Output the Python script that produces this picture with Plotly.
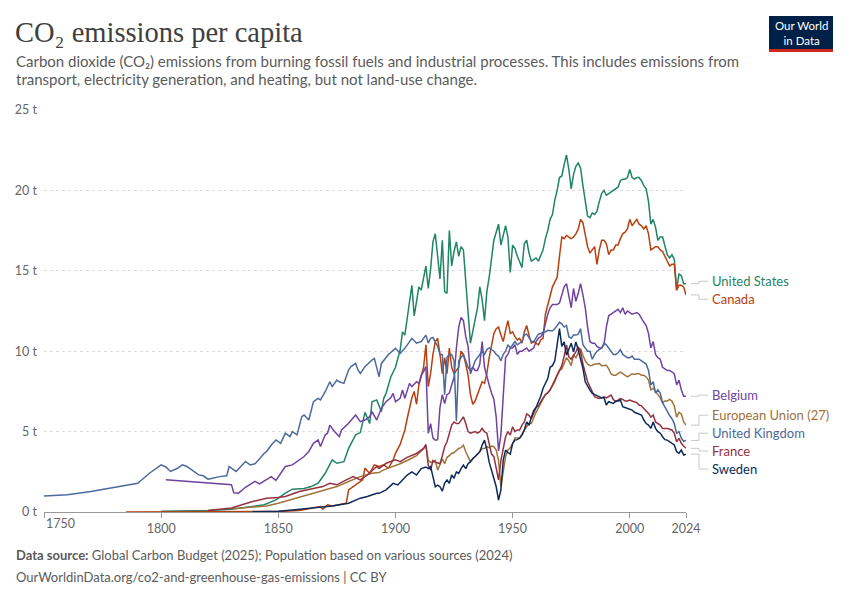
import plotly.graph_objects as go

# CO2 per capita (tonnes): (year, value)
united_states = [
    (1800, 0.05), (1810, 0.06), (1820, 0.1), (1830, 0.17), (1839, 0.34), (1844, 0.45),
    (1849, 0.75), (1853, 1.17), (1856, 1.42), (1861, 1.46), (1864, 1.58), (1867, 1.79),
    (1870, 2.41), (1873, 3.24), (1875, 3.03), (1878, 3.13), (1880, 3.96), (1883, 4.8),
    (1885, 4.94), (1887, 6.2), (1889, 5.5), (1890, 6.86), (1892, 6.97), (1894, 6.24),
    (1895, 7.07), (1896, 7.38), (1898, 8.4), (1900, 9.0), (1902, 10.07), (1903, 11.2),
    (1904, 11.0), (1905, 12.1), (1907, 14.1), (1908, 12.2), (1910, 14.0), (1911, 13.8),
    (1913, 15.3), (1914, 13.9), (1915, 15.1), (1916, 16.8), (1917, 17.3), (1919, 14.5),
    (1920, 16.9), (1921, 13.7), (1922, 13.6), (1923, 17.5), (1924, 15.3), (1925, 16.2),
    (1926, 16.8), (1927, 15.9), (1928, 16.5), (1929, 16.3), (1930, 14.6), (1931, 12.4),
    (1932, 10.5), (1933, 11.2), (1934, 11.8), (1935, 12.7), (1936, 14.0), (1937, 13.2),
    (1938, 11.9), (1939, 13.7), (1940, 14.6), (1941, 15.8), (1942, 16.9), (1943, 17.4),
    (1944, 17.9), (1945, 16.6), (1946, 17.3), (1947, 17.8), (1948, 17.1), (1949, 14.9),
    (1950, 16.6), (1951, 16.4), (1952, 15.9), (1953, 15.6), (1954, 15.2), (1955, 16.7),
    (1956, 16.9), (1957, 16.1), (1958, 15.6), (1959, 15.7), (1960, 15.8), (1961, 15.6),
    (1962, 16.0), (1963, 16.3), (1964, 17.0), (1965, 17.5), (1966, 18.2), (1967, 18.5),
    (1968, 19.4), (1969, 20.0), (1970, 20.8), (1971, 20.9), (1972, 21.6), (1973, 22.2),
    (1974, 21.3), (1975, 20.1), (1976, 21.0), (1977, 21.5), (1978, 21.7), (1979, 21.4),
    (1980, 20.3), (1981, 19.4), (1982, 18.4), (1983, 18.3), (1984, 18.6), (1985, 18.5),
    (1986, 18.7), (1987, 19.3), (1988, 19.8), (1989, 20.0), (1990, 19.7), (1991, 19.8),
    (1992, 19.9), (1993, 20.0), (1994, 20.1), (1995, 20.2), (1996, 20.6), (1997, 20.7),
    (1998, 20.7), (1999, 20.8), (2000, 21.3), (2001, 20.8), (2002, 20.7), (2003, 20.8),
    (2004, 20.8), (2005, 20.6), (2006, 20.3), (2007, 20.1), (2008, 19.3), (2009, 17.9),
    (2010, 18.2), (2011, 17.7), (2012, 16.9), (2013, 17.1), (2014, 17.1), (2015, 16.5),
    (2016, 16.0), (2017, 15.8), (2018, 16.0), (2019, 15.7), (2020, 13.8), (2021, 14.8),
    (2022, 14.7), (2023, 14.2), (2024, 14.2),
]

canada = [
    (1785, 0.0), (1800, 0.01), (1820, 0.01), (1840, 0.02), (1850, 0.03), (1859, 0.1),
    (1865, 0.25), (1868, 0.34), (1869, 0.17), (1871, 0.45), (1873, 0.38), (1876, 0.45),
    (1879, 0.55), (1880, 1.38), (1882, 1.6), (1884, 1.8), (1886, 2.0), (1887, 2.72),
    (1889, 2.41), (1891, 2.93), (1893, 2.83), (1895, 2.93), (1897, 2.72), (1899, 3.24),
    (1900, 3.65), (1902, 4.2), (1904, 5.1), (1905, 5.8), (1907, 7.1), (1908, 7.5),
    (1909, 6.7), (1910, 7.9), (1911, 8.4), (1912, 9.0), (1913, 10.4), (1914, 7.8),
    (1915, 8.6), (1916, 9.8), (1917, 10.6), (1918, 10.8), (1919, 9.8), (1920, 8.6),
    (1921, 9.6), (1922, 8.6), (1923, 10.2), (1924, 9.0), (1925, 8.6), (1926, 8.8),
    (1927, 9.0), (1928, 10.0), (1929, 9.8), (1930, 9.2), (1931, 8.5), (1932, 7.3),
    (1933, 6.7), (1934, 6.9), (1935, 7.3), (1936, 7.7), (1937, 8.1), (1938, 8.0),
    (1939, 8.6), (1940, 9.6), (1941, 10.3), (1942, 11.1), (1943, 11.4), (1944, 11.5),
    (1945, 11.0), (1946, 10.6), (1947, 11.3), (1948, 11.9), (1949, 11.1), (1950, 11.2),
    (1951, 10.9), (1952, 10.7), (1953, 10.8), (1954, 10.5), (1955, 11.2), (1956, 11.6),
    (1957, 11.0), (1958, 10.5), (1959, 10.6), (1960, 10.5), (1961, 10.4), (1962, 10.7),
    (1963, 10.8), (1964, 12.3), (1965, 12.9), (1966, 13.4), (1967, 14.0), (1968, 14.3),
    (1969, 14.6), (1970, 15.9), (1971, 17.1), (1972, 17.0), (1973, 17.2), (1974, 17.1),
    (1975, 17.0), (1976, 17.1), (1977, 17.3), (1978, 17.6), (1979, 18.2), (1980, 18.0),
    (1981, 17.3), (1982, 16.5), (1983, 16.1), (1984, 16.3), (1985, 16.5), (1986, 15.4),
    (1987, 16.3), (1988, 16.9), (1989, 16.9), (1990, 16.7), (1991, 16.0), (1992, 16.3),
    (1993, 16.3), (1994, 16.6), (1995, 16.6), (1996, 17.0), (1997, 17.3), (1998, 17.4),
    (1999, 17.6), (2000, 18.2), (2001, 17.8), (2002, 18.0), (2003, 18.2), (2004, 17.9),
    (2005, 17.8), (2006, 17.6), (2007, 17.8), (2008, 17.3), (2009, 16.3), (2010, 16.4),
    (2011, 16.5), (2012, 16.5), (2013, 16.3), (2014, 16.2), (2015, 15.9), (2016, 15.5),
    (2017, 15.3), (2018, 15.4), (2019, 15.4), (2020, 13.8), (2021, 14.1), (2022, 14.1),
    (2023, 14.0), (2024, 13.5),
]

belgium = [
    (1802, 2.0), (1830, 1.7), (1831, 1.2), (1833, 1.17), (1836, 1.54), (1839, 1.79),
    (1840, 1.9), (1842, 1.75), (1845, 2.0), (1847, 2.2), (1849, 1.96), (1851, 2.41),
    (1853, 2.83), (1856, 2.93), (1859, 3.24), (1861, 3.45), (1863, 3.76), (1865, 4.27),
    (1867, 4.48), (1868, 4.07), (1870, 4.79), (1871, 4.9), (1872, 5.4), (1874, 5.0),
    (1876, 4.69), (1877, 5.1), (1880, 5.52), (1882, 5.83), (1883, 6.03), (1885, 5.62),
    (1887, 5.72), (1889, 5.93), (1890, 6.24), (1892, 5.72), (1894, 6.45), (1896, 6.86),
    (1898, 7.1), (1899, 7.38), (1900, 6.86), (1902, 7.07), (1903, 7.59), (1904, 7.07),
    (1906, 8.0), (1907, 7.8), (1909, 8.1), (1910, 8.0), (1911, 8.5), (1912, 8.73),
    (1913, 9.04), (1914, 4.9), (1915, 5.5), (1916, 4.6), (1917, 4.47), (1918, 4.5),
    (1919, 6.5), (1920, 7.3), (1921, 6.75), (1922, 7.3), (1923, 7.4), (1924, 7.9),
    (1925, 8.36), (1926, 10.2), (1927, 11.5), (1928, 12.1), (1929, 11.9), (1930, 10.9),
    (1931, 10.3), (1932, 8.6), (1933, 9.0), (1934, 8.8), (1935, 8.8), (1936, 9.2),
    (1937, 10.6), (1938, 9.0), (1939, 8.4), (1940, 7.9), (1941, 7.4), (1942, 7.0),
    (1943, 5.9), (1944, 3.8), (1945, 4.8), (1946, 7.3), (1947, 9.6), (1948, 9.8),
    (1949, 10.2), (1950, 10.2), (1951, 10.4), (1952, 9.8), (1953, 10.0), (1954, 10.0),
    (1955, 10.1), (1956, 10.2), (1957, 10.0), (1958, 10.1), (1959, 10.2), (1960, 10.6),
    (1961, 10.8), (1962, 10.9), (1963, 11.1), (1964, 11.7), (1965, 12.3), (1966, 12.7),
    (1967, 12.9), (1968, 12.9), (1969, 12.9), (1970, 13.0), (1971, 13.5), (1972, 14.0),
    (1973, 14.2), (1974, 13.4), (1975, 12.7), (1976, 13.9), (1977, 13.1), (1978, 13.6),
    (1979, 14.2), (1980, 13.5), (1981, 12.7), (1982, 11.5), (1983, 10.6), (1984, 10.5),
    (1985, 10.5), (1986, 10.3), (1987, 10.2), (1988, 10.2), (1989, 10.4), (1990, 11.5),
    (1991, 12.2), (1992, 12.3), (1993, 12.4), (1994, 12.5), (1995, 12.6), (1996, 12.4),
    (1997, 12.7), (1998, 12.3), (1999, 12.5), (2000, 12.4), (2001, 12.3), (2002, 12.35),
    (2003, 12.4), (2004, 12.3), (2005, 12.0), (2006, 11.8), (2007, 11.6), (2008, 11.1),
    (2009, 10.2), (2010, 10.6), (2011, 9.8), (2012, 9.6), (2013, 9.5), (2014, 9.0),
    (2015, 8.9), (2016, 8.8), (2017, 8.8), (2018, 8.7), (2019, 8.6), (2020, 7.9),
    (2021, 8.2), (2022, 7.6), (2023, 7.2), (2024, 7.2),
]

european_union = [
    (1830, 0.2), (1839, 0.3), (1845, 0.38), (1850, 0.55), (1855, 0.75), (1860, 0.96),
    (1865, 1.17), (1870, 1.38), (1875, 1.58), (1880, 1.9), (1885, 2.2), (1890, 2.41),
    (1893, 2.45), (1895, 2.62), (1899, 2.83), (1902, 3.0), (1905, 3.2), (1909, 3.5),
    (1911, 3.8), (1913, 4.1), (1914, 3.2), (1915, 3.1), (1916, 3.1), (1917, 3.2),
    (1918, 2.6), (1919, 2.9), (1920, 3.3), (1921, 3.0), (1922, 3.4), (1923, 3.5),
    (1924, 3.64), (1925, 3.7), (1926, 3.85), (1927, 3.95), (1928, 4.0), (1929, 4.16),
    (1930, 3.75), (1931, 3.44), (1932, 3.13), (1933, 3.3), (1934, 3.44), (1935, 3.6),
    (1936, 3.75), (1937, 3.95), (1938, 3.95), (1939, 4.06), (1940, 4.0), (1941, 4.1),
    (1942, 4.06), (1943, 3.85), (1944, 3.2), (1945, 1.57), (1946, 2.6), (1947, 3.44),
    (1948, 3.85), (1949, 4.0), (1950, 4.26), (1951, 4.6), (1952, 4.6), (1953, 4.58),
    (1955, 5.1), (1957, 5.5), (1958, 5.5), (1960, 6.2), (1962, 6.75), (1964, 7.3),
    (1966, 7.58), (1968, 8.1), (1969, 8.5), (1970, 8.8), (1971, 8.9), (1972, 9.2),
    (1973, 9.6), (1974, 9.4), (1975, 9.1), (1976, 9.75), (1977, 9.6), (1978, 9.9),
    (1979, 10.17), (1980, 9.75), (1981, 9.4), (1982, 9.2), (1983, 9.1), (1984, 9.13),
    (1985, 9.2), (1986, 9.2), (1987, 9.24), (1988, 9.1), (1989, 9.13), (1990, 9.13),
    (1991, 8.9), (1992, 8.6), (1993, 8.5), (1994, 8.5), (1995, 8.6), (1996, 8.7),
    (1997, 8.6), (1998, 8.5), (1999, 8.4), (2000, 8.5), (2001, 8.6), (2002, 8.55),
    (2003, 8.6), (2004, 8.6), (2005, 8.5), (2006, 8.5), (2007, 8.4), (2008, 8.2),
    (2009, 7.6), (2010, 7.7), (2011, 7.5), (2012, 7.3), (2013, 7.1), (2014, 6.8),
    (2015, 6.9), (2016, 6.9), (2017, 7.0), (2018, 6.9), (2019, 6.6), (2020, 5.9),
    (2021, 6.2), (2022, 6.1), (2023, 5.6), (2024, 5.4),
]

united_kingdom = [
    (1750, 1.0), (1760, 1.07), (1770, 1.27), (1780, 1.52), (1790, 1.79), (1795, 2.41),
    (1800, 2.93), (1802, 2.8), (1804, 2.52), (1807, 2.72), (1809, 2.93), (1811, 2.83),
    (1814, 2.52), (1816, 2.31), (1818, 2.25), (1820, 2.04), (1822, 2.1), (1825, 2.2),
    (1828, 2.25), (1829, 2.83), (1831, 2.62), (1832, 2.52), (1834, 2.83), (1836, 3.14),
    (1838, 2.93), (1840, 3.0), (1841, 3.14), (1843, 3.5), (1844, 3.65), (1845, 3.76),
    (1847, 4.17), (1849, 4.48), (1851, 4.27), (1853, 4.9), (1855, 4.69), (1856, 5.0),
    (1858, 4.8), (1860, 5.93), (1861, 6.03), (1863, 5.72), (1865, 6.86), (1867, 7.07),
    (1868, 6.97), (1870, 7.48), (1872, 8.1), (1873, 7.8), (1875, 8.2), (1876, 8.1),
    (1878, 8.0), (1880, 8.83), (1881, 9.04), (1883, 9.24), (1884, 8.83), (1885, 8.62),
    (1887, 9.04), (1890, 9.45), (1891, 9.55), (1893, 8.4), (1894, 9.24), (1897, 9.8),
    (1900, 10.18), (1902, 9.86), (1904, 10.18), (1907, 10.8), (1909, 10.5), (1911, 10.6),
    (1913, 11.0), (1914, 10.5), (1915, 10.8), (1916, 10.85), (1917, 10.6), (1918, 10.3),
    (1919, 9.8), (1920, 9.8), (1921, 7.3), (1922, 9.6), (1923, 9.8), (1924, 9.8),
    (1925, 9.4), (1926, 5.65), (1927, 9.4), (1928, 9.6), (1929, 9.8), (1930, 9.4),
    (1931, 9.0), (1932, 8.8), (1933, 9.0), (1934, 9.4), (1935, 9.6), (1936, 9.8),
    (1937, 10.0), (1938, 9.8), (1939, 10.1), (1940, 10.2), (1941, 10.1), (1942, 10.0),
    (1943, 9.8), (1944, 9.7), (1945, 9.4), (1946, 9.8), (1947, 10.0), (1948, 10.4),
    (1949, 10.2), (1950, 10.4), (1951, 10.6), (1952, 10.4), (1953, 10.5), (1954, 10.6),
    (1955, 11.0), (1956, 11.06), (1957, 10.85), (1958, 10.6), (1959, 10.6), (1960, 10.85),
    (1961, 11.06), (1962, 11.1), (1963, 11.2), (1964, 11.2), (1965, 11.3), (1966, 11.27),
    (1967, 11.27), (1968, 11.4), (1969, 11.6), (1970, 11.8), (1971, 11.7), (1972, 11.5),
    (1973, 11.6), (1974, 10.9), (1975, 10.8), (1976, 11.0), (1977, 11.0), (1978, 11.06),
    (1979, 11.4), (1980, 10.4), (1981, 10.2), (1982, 10.0), (1983, 10.0), (1984, 9.5),
    (1985, 9.8), (1986, 10.0), (1987, 10.1), (1988, 10.2), (1989, 10.5), (1990, 10.4),
    (1991, 10.2), (1992, 10.0), (1993, 9.8), (1994, 9.8), (1995, 9.9), (1996, 10.1),
    (1997, 9.8), (1998, 9.7), (1999, 9.6), (2000, 9.6), (2001, 9.7), (2002, 9.5),
    (2003, 9.5), (2004, 9.5), (2005, 9.4), (2006, 9.3), (2007, 9.2), (2008, 8.8),
    (2009, 7.9), (2010, 8.1), (2011, 7.4), (2012, 7.6), (2013, 7.4), (2014, 6.8),
    (2015, 6.5), (2016, 6.2), (2017, 6.0), (2018, 5.8), (2019, 5.5), (2020, 4.9),
    (2021, 5.0), (2022, 4.6), (2023, 4.4), (2024, 4.45),
]

france = [
    (1820, 0.1), (1830, 0.25), (1839, 0.65), (1845, 0.86), (1850, 0.9), (1853, 0.96),
    (1859, 1.27), (1865, 1.48), (1869, 1.58), (1872, 1.79), (1875, 1.69), (1879, 2.0),
    (1882, 2.2), (1885, 2.0), (1888, 2.3), (1892, 2.83), (1893, 2.7), (1896, 3.03),
    (1900, 3.24), (1902, 3.13), (1905, 3.4), (1909, 3.64), (1912, 3.95), (1913, 4.2),
    (1914, 2.9), (1915, 2.6), (1916, 3.2), (1917, 3.1), (1919, 3.0), (1920, 3.5),
    (1921, 4.06), (1922, 4.37), (1923, 4.9), (1924, 5.4), (1925, 5.6), (1926, 5.5),
    (1927, 5.5), (1928, 5.7), (1929, 5.92), (1930, 5.5), (1931, 5.0), (1932, 4.9),
    (1933, 4.95), (1934, 5.0), (1935, 4.9), (1936, 5.0), (1937, 5.2), (1938, 5.0),
    (1939, 4.9), (1940, 4.26), (1941, 3.6), (1942, 3.44), (1943, 2.8), (1944, 2.0),
    (1945, 3.2), (1946, 4.06), (1947, 4.68), (1948, 5.0), (1949, 4.78), (1950, 5.3),
    (1951, 5.0), (1952, 5.1), (1953, 5.1), (1954, 5.4), (1955, 5.6), (1956, 6.1),
    (1957, 6.0), (1958, 5.8), (1959, 6.1), (1960, 6.5), (1961, 6.6), (1962, 6.9),
    (1963, 7.1), (1964, 7.3), (1965, 7.4), (1966, 7.6), (1967, 7.9), (1968, 8.1),
    (1969, 8.4), (1970, 8.7), (1971, 9.1), (1972, 9.7), (1973, 10.37), (1974, 9.65),
    (1975, 9.5), (1976, 9.75), (1977, 9.96), (1978, 10.27), (1979, 9.96), (1980, 9.2),
    (1981, 8.7), (1982, 8.1), (1983, 7.8), (1984, 7.5), (1985, 7.17), (1986, 7.1),
    (1987, 7.06), (1988, 7.1), (1989, 7.17), (1990, 7.1), (1991, 7.2), (1992, 7.27),
    (1993, 7.0), (1994, 6.86), (1995, 6.96), (1996, 7.06), (1997, 7.0), (1998, 6.9),
    (1999, 6.9), (2000, 6.96), (2001, 6.9), (2002, 6.86), (2003, 6.8), (2004, 6.65),
    (2005, 6.6), (2006, 6.44), (2007, 6.3), (2008, 6.13), (2009, 5.9), (2010, 6.03),
    (2011, 5.6), (2012, 5.5), (2013, 5.4), (2014, 5.2), (2015, 5.2), (2016, 5.2),
    (2017, 5.15), (2018, 5.1), (2019, 4.9), (2020, 4.37), (2021, 4.58), (2022, 4.27),
    (2023, 4.1), (2024, 3.96),
]

sweden = [
    (1839, 0.02), (1850, 0.05), (1856, 0.13), (1865, 0.25), (1873, 0.38), (1880, 0.55),
    (1885, 0.86), (1888, 0.96), (1892, 1.17), (1893, 1.16), (1896, 1.38), (1899, 1.78),
    (1901, 1.68), (1903, 1.99), (1905, 2.3), (1907, 2.5), (1909, 2.3), (1911, 2.7),
    (1913, 2.8), (1914, 2.7), (1915, 2.82), (1916, 2.2), (1917, 1.57), (1918, 1.67),
    (1919, 1.57), (1920, 1.3), (1921, 1.8), (1922, 1.99), (1923, 1.78), (1924, 2.3),
    (1925, 2.1), (1926, 2.5), (1927, 2.4), (1928, 2.7), (1929, 2.92), (1930, 2.7),
    (1931, 3.0), (1932, 3.13), (1933, 3.33), (1934, 3.45), (1935, 3.6), (1936, 3.75),
    (1937, 4.16), (1938, 4.47), (1939, 3.9), (1940, 3.1), (1941, 2.6), (1942, 2.1),
    (1943, 1.57), (1944, 0.74), (1945, 1.37), (1946, 3.23), (1947, 3.85), (1948, 3.7),
    (1949, 3.6), (1950, 4.26), (1951, 4.47), (1952, 4.5), (1953, 4.6), (1954, 4.78),
    (1955, 5.1), (1956, 5.6), (1957, 5.4), (1958, 5.9), (1959, 6.3), (1960, 6.5),
    (1961, 6.86), (1962, 7.2), (1963, 7.7), (1964, 8.0), (1965, 8.3), (1966, 9.0),
    (1967, 9.1), (1968, 9.4), (1969, 10.4), (1970, 11.4), (1971, 10.3), (1972, 10.58),
    (1973, 9.75), (1974, 10.1), (1975, 10.5), (1976, 9.96), (1977, 10.58), (1978, 10.07),
    (1979, 9.55), (1980, 8.93), (1981, 8.1), (1982, 7.8), (1983, 7.58), (1984, 7.37),
    (1985, 7.3), (1986, 7.27), (1987, 7.17), (1988, 7.1), (1989, 7.1), (1990, 6.65),
    (1991, 6.86), (1992, 6.8), (1993, 6.75), (1994, 6.9), (1995, 6.9), (1996, 6.96),
    (1997, 6.55), (1998, 6.5), (1999, 6.44), (2000, 6.4), (2001, 6.34), (2002, 6.2),
    (2003, 6.13), (2004, 6.08), (2005, 6.03), (2006, 5.72), (2007, 5.5), (2008, 5.4),
    (2009, 5.2), (2010, 5.6), (2011, 5.2), (2012, 5.0), (2013, 4.9), (2014, 4.68),
    (2015, 4.5), (2016, 4.47), (2017, 4.37), (2018, 4.25), (2019, 4.17), (2020, 3.75),
    (2021, 3.65), (2022, 3.85), (2023, 3.54), (2024, 3.6),
]

names = ['United States', 'Canada', 'Belgium', 'European Union (27)',
         'United Kingdom', 'France', 'Sweden']
colors = ['#1f8564', '#b8400f', '#7043a0', '#a0733a', '#4c6a9c', '#943240', '#0d2a5a']
# where the end labels sit (tonnes) so they don't overlap
label_y = [14.35, 13.23, 7.27, 6.02, 4.9, 3.79, 2.67]
year_ticks = [1750, 1800, 1850, 1900, 1950, 2000, 2024]
value_ticks = [0, 5, 10, 15, 20, 25]

series = [united_states, canada, belgium, european_union, united_kingdom, france, sweden]


# plot area in window pixels: x 44..686, y 110..512
def px(X):
    return (X - 44) / 642


def py(Y):
    return (512 - Y) / 402


fig = go.Figure()
for name, color, data in zip(names, colors, series):
    fig.add_trace(go.Scatter(
        x=[d[0] for d in data], y=[d[1] for d in data],
        mode='lines', name=name,
        line=dict(color=color, width=1.5),
        hoverinfo='skip',
    ))

shapes = []
annotations = []
for name, color, data, ly in zip(names, colors, series, label_y):
    end = data[-1][1]
    shapes.append(dict(
        type='path', xref='paper', yref='y',
        path='M {a},{e} L {b},{e} L {b},{l} L {c},{l}'.format(
            a=px(691), b=px(699), c=px(708), e=end, l=ly),
        line=dict(color='#c8c8c8', width=1),
    ))
    annotations.append(dict(
        xref='paper', yref='y', x=px(710), y=ly, xanchor='left', yanchor='middle',
        text=name, showarrow=False,
        font=dict(family='Lato', size=13, color=color),
    ))

subtitle_lines = [
    'Carbon dioxide (CO₂) emissions from burning fossil fuels and industrial processes. '
    'This includes emissions from',
    'transport, electricity generation, and heating, but not land-use change.',
]

# header, logo and footer
annotations += [
    dict(xref='paper', yref='paper', x=px(13), y=py(32), xanchor='left', yanchor='middle',
         text='CO₂ emissions per capita', showarrow=False,
         font=dict(family='Liberation Serif', size=28.5, color='#404040')),
    dict(xref='paper', yref='paper', x=px(14), y=py(61), xanchor='left', yanchor='middle',
         text=subtitle_lines[0], showarrow=False,
         font=dict(family='Lato', size=15, color='#5b5b5b')),
    dict(xref='paper', yref='paper', x=px(14), y=py(79), xanchor='left', yanchor='middle',
         text=subtitle_lines[1], showarrow=False,
         font=dict(family='Lato', size=15, color='#5b5b5b')),
    dict(xref='paper', yref='paper', x=px(801), y=py(33), xanchor='center', yanchor='middle',
         text='Our World<br>in Data', showarrow=False,
         font=dict(family='Lato', size=11.5, color='white')),
    dict(xref='paper', yref='paper', x=px(14), y=py(555), xanchor='left', yanchor='middle',
         text='<b>Data source:</b> Global Carbon Budget (2025); Population based on various sources (2024)',
         showarrow=False, font=dict(family='Lato', size=13, color='#5b5b5b')),
    dict(xref='paper', yref='paper', x=px(14), y=py(577), xanchor='left', yanchor='middle',
         text='OurWorldinData.org/co2-and-greenhouse-gas-emissions | CC BY',
         showarrow=False, font=dict(family='Lato', size=13, color='#5b5b5b')),
    # first year label sits to the right of its tick
    dict(xref='x', yref='paper', x=year_ticks[0], y=py(523), xanchor='left', yanchor='middle',
         text=str(year_ticks[0]), showarrow=False,
         font=dict(family='Lato', size=12.5, color='#666')),
]
shapes += [
    dict(type='rect', xref='paper', yref='paper', x0=px(769), x1=px(833), y0=py(16), y1=py(49),
         fillcolor='#002147', line=dict(width=0)),
    dict(type='rect', xref='paper', yref='paper', x0=px(769), x1=px(833), y0=py(49), y1=py(52),
         fillcolor='#ce261e', line=dict(width=0)),
]

# the page body adds an 8px offset, so the figure is 8px smaller and margins shift
fig.update_layout(
    width=842, height=592,
    margin=dict(l=36, r=164, t=102, b=88, autoexpand=False),
    paper_bgcolor='white', plot_bgcolor='white',
    showlegend=False, hovermode=False,
    xaxis=dict(
        range=[1750, 2024],
        tickvals=year_ticks,
        ticktext=[''] + [str(t) for t in year_ticks[1:]],
        showgrid=False, zeroline=False, automargin=False,
        showline=True, linecolor='#999', linewidth=1,
        ticks='outside', ticklen=5, tickcolor='#999',
        tickfont=dict(family='Lato', size=12.5, color='#666'),
    ),
    yaxis=dict(
        range=[0, 25],
        tickvals=value_ticks,
        ticktext=['{} t'.format(v) for v in value_ticks],
        showgrid=True, gridcolor='#dcdcdc', griddash='3px,3px', gridwidth=1,
        zeroline=False, showline=False, automargin=False,
        ticks='', ticklabelstandoff=6,
        tickfont=dict(family='Lato', size=12.5, color='#666'),
    ),
    shapes=shapes,
    annotations=annotations,
)

fig.write_html('out.html')
